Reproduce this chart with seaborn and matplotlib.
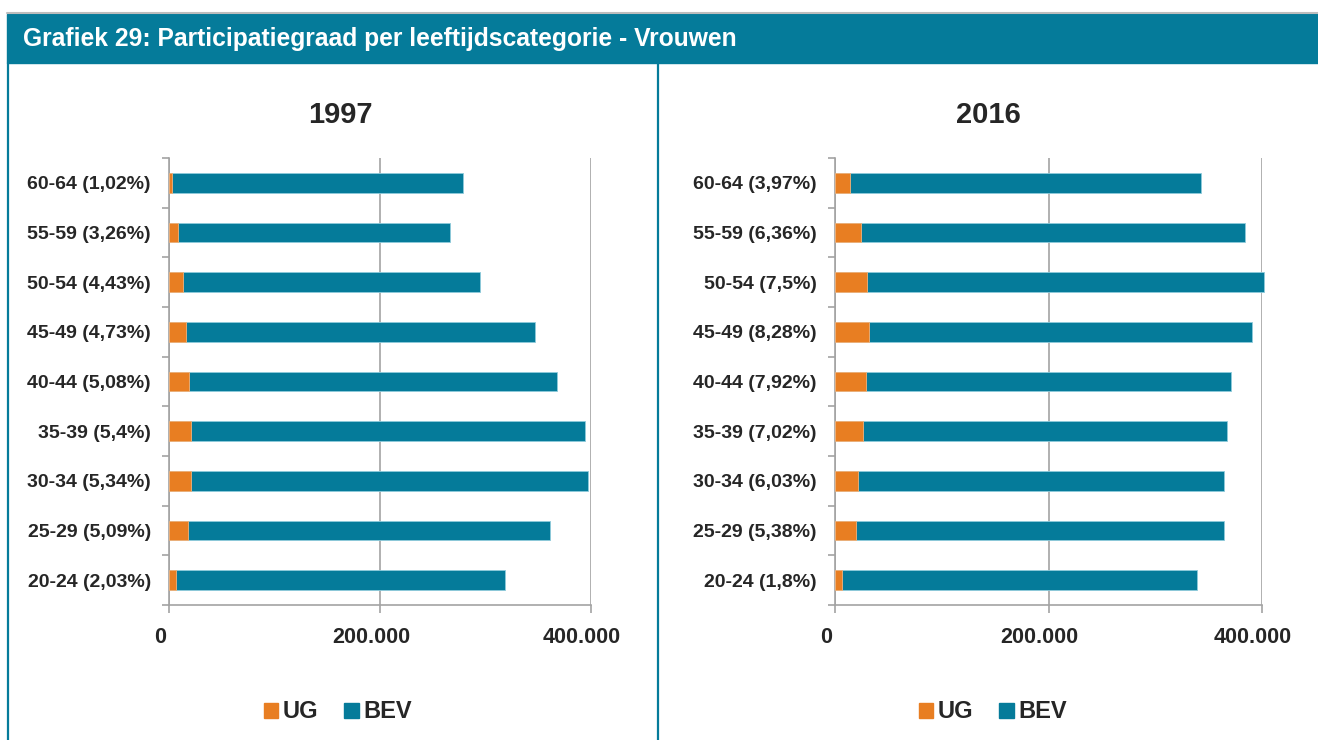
import numpy as np
import pandas as pd
import matplotlib
matplotlib.use("Agg")
import matplotlib.pyplot as plt
import matplotlib.transforms as mtransforms
from matplotlib.patches import Rectangle
import seaborn as sns

# categories, top to bottom
ages = ['60-64', '55-59', '50-54', '45-49', '40-44', '35-39', '30-34', '25-29', '20-24']

labels_1997 = ['60-64 (1,02%)', '55-59 (3,26%)', '50-54 (4,43%)', '45-49 (4,73%)',
               '40-44 (5,08%)', '35-39 (5,4%)', '30-34 (5,34%)', '25-29 (5,09%)',
               '20-24 (2,03%)']
ug_1997 = [2800, 8700, 13100, 16400, 18700, 21300, 21200, 18400, 6500]
bev_1997 = [275600, 257400, 282000, 330500, 349400, 372700, 376300, 343000, 312300]

labels_2016 = ['60-64 (3,97%)', '55-59 (6,36%)', '50-54 (7,5%)', '45-49 (8,28%)',
               '40-44 (7,92%)', '35-39 (7,02%)', '30-34 (6,03%)', '25-29 (5,38%)',
               '20-24 (1,8%)']
ug_2016 = [13600, 24400, 30100, 32300, 29300, 25800, 22000, 19600, 6100]
bev_2016 = [328900, 359800, 371700, 358300, 341300, 341400, 342100, 344500, 333400]

xticks = [0, 200000, 400000]
xtick_labels = ['0', '200.000', '400.000']

teal = '#057B9A'
orange = '#E87E22'
grid = '#A3A3A3'

sns.set_theme(style='white')
plt.rcParams['font.family'] = ['Liberation Sans', 'DejaVu Sans']
plt.rcParams['font.weight'] = 'bold'

W, H = 1318, 740
fig = plt.figure(figsize=(W / 100, H / 100), dpi=100)

# header band and panel borders
fig.patches.append(Rectangle((7 / W, 1 - 63 / H), 1 - 7 / W, 49 / H,
                             transform=fig.transFigure, color=teal, zorder=0))
fig.lines.append(plt.Line2D([7 / W, 1], [1 - 13 / H, 1 - 13 / H], transform=fig.transFigure,
                            color='#BDBDBD', lw=1.5))
for xx in [8, 658]:
    fig.lines.append(plt.Line2D([xx / W, xx / W], [0, 1 - 63 / H], transform=fig.transFigure,
                                color=teal, lw=1.6))
fig.text(23 / W, 1 - 39 / H, 'Grafiek 29: Participatiegraad per leeftijdscategorie - Vrouwen',
         color='white', fontsize=17.7, fontweight='bold', va='center', ha='left')


def panel(left_px, right_px, labels, ug, bev, year, title_x, legend_x):
    ax = fig.add_axes([left_px / W, 1 - 605 / H, (right_px - left_px) / W, (605 - 158) / H])
    df = pd.DataFrame({'label': labels, 'UG': ug, 'BEV': bev})
    df['total'] = df['UG'] + df['BEV']
    sns.barplot(data=df, y='label', x='total', color=teal, width=0.4, orient='h',
                ax=ax, saturation=1, edgecolor='#8FCBDB', linewidth=0.6, zorder=3)
    sns.barplot(data=df, y='label', x='UG', color=orange, width=0.4, orient='h',
                ax=ax, saturation=1, edgecolor='#F3B27A', linewidth=0.6, zorder=4)
    for p in ax.patches:
        p.set_clip_on(False)
    ax.set_xlim(0, 400000)
    ax.set_ylim(8.5, -0.5)
    ax.set_xlabel('')
    ax.set_ylabel('')
    ax.set_xticks(xticks)
    ax.set_xticklabels(xtick_labels, fontsize=15.5, fontweight='bold')
    ax.set_yticks(range(len(labels)))
    ax.set_yticklabels(labels, fontsize=14, fontweight='bold')
    ax.set_yticks(np.arange(-0.5, 9, 1), minor=True)
    ax.tick_params(axis='y', which='major', length=0, pad=13)
    ax.tick_params(axis='y', which='minor', length=5, color=grid, width=1.2, direction='out', left=True)
    ax.tick_params(axis='x', length=6, color=grid, width=1.2, direction='out', bottom=True, pad=10)
    offset = mtransforms.ScaledTranslation(-9 / 100, 0, fig.dpi_scale_trans)
    for t in ax.get_xticklabels():
        t.set_transform(t.get_transform() + offset)
    ax.xaxis.grid(True, color=grid, lw=1.2, zorder=0)
    ax.yaxis.grid(False)
    for s in ['top', 'right']:
        ax.spines[s].set_visible(False)
    for s in ['left', 'bottom']:
        ax.spines[s].set_color(grid)
        ax.spines[s].set_linewidth(1.2)
    fig.text(title_x / W, 1 - 115 / H, year, fontsize=21, fontweight='bold', ha='center', va='center')
    handles = [Rectangle((0, 0), 1, 1, color=orange), Rectangle((0, 0), 1, 1, color=teal)]
    fig.legend(handles, ['UG', 'BEV'], loc='center', bbox_to_anchor=(legend_x / W, 1 - 712 / H),
               ncol=2, frameon=False, handlelength=0.6, handleheight=0.6, handletextpad=0.2,
               columnspacing=1.1, prop={'size': 17, 'weight': 'bold'})
    return ax


panel(169, 591, labels_1997, ug_1997, bev_1997, '1997', 340, 338)
panel(835, 1262, labels_2016, ug_2016, bev_2016, '2016', 988, 993)

fig.savefig('out.png', dpi=100)
